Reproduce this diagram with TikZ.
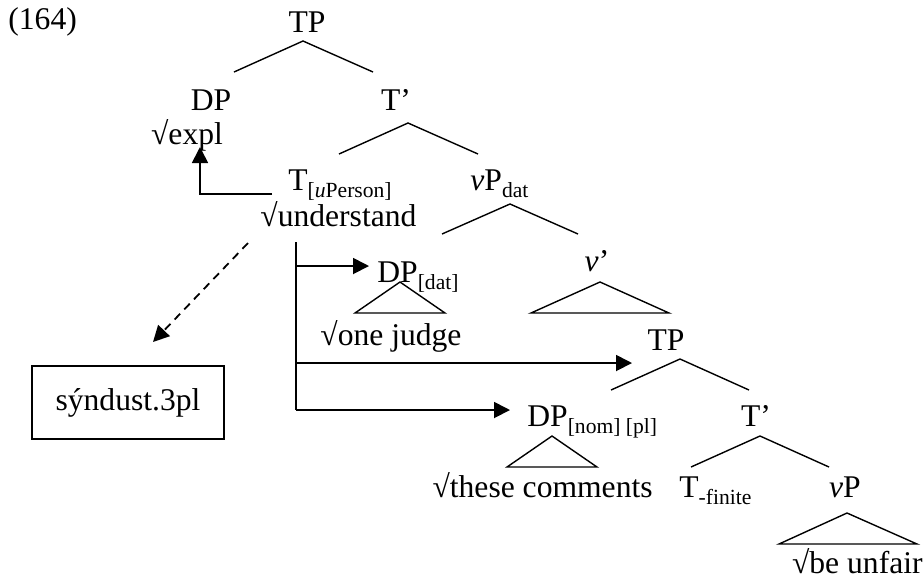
\documentclass[tikz,border=0pt]{standalone}
\usepackage{fontspec}
\setmainfont{Liberation Serif}
\usetikzlibrary{arrows.meta}
\newcommand\lsub[1]{\raisebox{-3.5pt}{\fontsize{10.8}{12}\selectfont #1}}
\begin{document}
\begin{tikzpicture}[x=0.5pt,y=-0.5pt,
 every node/.style={inner sep=0pt,font=\fontsize{15.8}{18}\selectfont},
 lbl/.style={anchor=base west},
 lblc/.style={anchor=base},
 lble/.style={anchor=base east},
 br/.style={line width=0.7pt},
 arr/.style={line width=0.9pt,-{Triangle[length=8pt,width=8pt]}},
 dasharr/.style={arr,dash pattern=on 4pt off 3pt},
]
\useasboundingbox (0,0) rectangle (924,586);
% labels
\node[lbl] (ex) at (8,29) {(164)};
\node[lblc] (tp) at (307,32) {TP};
\node[lblc] (dp) at (211,110) {DP};
\node[lblc] (expl) at (187,144) {√expl};
\node[lblc] (tbar) at (396,110) {T’};
\node[lbl] (t) at (288,190) {T\lsub{[\textit{u}Person]}};
\node[lbl] (vpdat) at (470,190) {\textit{v}P\lsub{dat}};
\node[lbl] (und) at (260,226) {√understand};
\node[lbl] (dpdat) at (377,282) {DP\lsub{[dat]}};
\node[lblc] (vbar) at (597,271) {\textit{v}’};
\node[lbl] (judge) at (320,345) {√one judge};
\node[lblc] (tp2) at (666,350) {TP};
\node[lbl] (dpnom) at (527,426) {DP\lsub{[nom] [pl]}};
\node[lblc] (tbar2) at (756,426) {T’};
\node[lble] (comm) at (653,497) {√these comments};
\node[lbl] (tfin) at (679,497) {T\lsub{-finite}};
\node[lblc] (vp) at (845,497) {\textit{v}P};
\node[lble] (unfair) at (923,573) {√be unfair};
\node[draw,line width=0.8pt,minimum width=96pt,minimum height=36.5pt] (box) at (128,402.5) {sýndust.3pl};
% branch points
\coordinate (tpA) at (303,41);  \coordinate (tpL) at (234,72);  \coordinate (tpR) at (373,72);
\coordinate (tbA) at (408,123); \coordinate (tbL) at (339,154); \coordinate (tbR) at (478,154);
\coordinate (vdA) at (510,204); \coordinate (vdL) at (442,234); \coordinate (vdR) at (578,234);
\coordinate (djA) at (400,282); \coordinate (djL) at (355,313); \coordinate (djR) at (445,313);
\coordinate (vbA) at (600,282); \coordinate (vbL) at (531,313); \coordinate (vbR) at (669,313);
\coordinate (t2A) at (680,359); \coordinate (t2L) at (611,390); \coordinate (t2R) at (749,390);
\coordinate (dnA) at (552,436); \coordinate (dnL) at (507,467); \coordinate (dnR) at (597,467);
\coordinate (tcA) at (760,436); \coordinate (tcL) at (691,467); \coordinate (tcR) at (829,467);
\coordinate (vpA) at (847,513); \coordinate (vpL) at (779,544); \coordinate (vpR) at (917,544);
\draw[br] (tpL) -- (tpA) -- (tpR);
\draw[br] (tbL) -- (tbA) -- (tbR);
\draw[br] (vdL) -- (vdA) -- (vdR);
\draw[br] (djL) -- (djA) -- (djR) -- cycle;
\draw[br] (vbL) -- (vbA) -- (vbR) -- cycle;
\draw[br] (t2L) -- (t2A) -- (t2R);
\draw[br] (dnL) -- (dnA) -- (dnR) -- cycle;
\draw[br] (tcL) -- (tcA) -- (tcR);
\draw[br] (vpL) -- (vpA) -- (vpR) -- cycle;
% movement arrows
\coordinate (mvS) at (272,194); \coordinate (mvT) at (200,147);
\draw[arr] (mvS) -| (mvT);
\coordinate (d0) at (248,243); \coordinate (d1) at (153,342);
\draw[dasharr] (d0) -- (d1);
\coordinate (v0) at (296,242); \coordinate (v1) at (296,266);
\coordinate (v2) at (296,363); \coordinate (v3) at (296,410);
\coordinate (e1) at (369,266); \coordinate (e2) at (632,363); \coordinate (e3) at (510,410);
\draw[line width=0.9pt] (v0) -- (v3);
\draw[arr] (v1) -- (e1);
\draw[arr] (v2) -- (e2);
\draw[arr] (v3) -- (e3);
\end{tikzpicture}
\end{document}
